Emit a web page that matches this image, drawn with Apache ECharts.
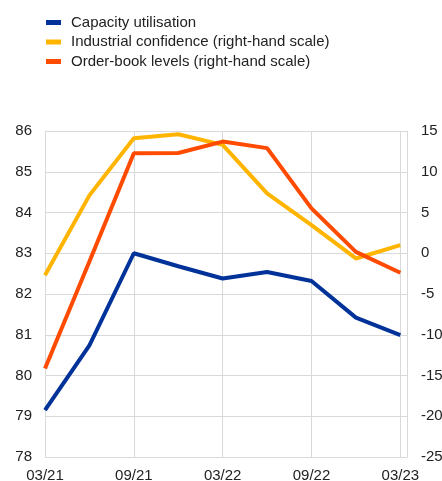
<!DOCTYPE html>
<html>
<head>
<meta charset="utf-8">
<script src="https://cdn.jsdelivr.net/npm/echarts@6/dist/echarts.min.js"></script>
<style>
  html, body { margin: 0; padding: 0; background: #fff; }
  #chart { width: 442px; height: 481px; }
</style>
</head>
<body>
<div id="chart"></div>
<script>
// quarterly points, 03/21 .. 03/23
const quarters = ['03/21', '06/21', '09/21', '12/21', '03/22', '06/22', '09/22', '12/22', '03/23']
const capacity = [79.15, 80.74, 83.0, 82.68, 82.38, 82.54, 82.32, 81.42, 80.99]
const confidence = [-2.7, 7.1, 14.1, 14.6, 13.3, 7.35, 3.45, -0.64, 1.0]
const orderBook = [-14.15, -1.0, 12.26, 12.3, 13.7, 12.9, 5.5, 0.17, -2.4]

const names = ['Capacity utilisation', 'Industrial confidence (right-hand scale)', 'Order-book levels (right-hand scale)']
const colors = ['#003299', '#ffb400', '#ff4b00']

function pts(arr) {
  return arr.map((v, i) => [i, v])
}

const font = 'Liberation Sans, Arial, sans-serif'
const chart = echarts.init(document.getElementById('chart'))

chart.setOption({
  animation: false,
  color: colors,
  textStyle: { fontFamily: font },
  legend: {
    orient: 'vertical',
    left: 46,
    top: 15,
    padding: 0,
    itemWidth: 15,
    itemHeight: 5,
    itemGap: 4.5,
    icon: 'rect',
    textStyle: { fontSize: 15, lineHeight: 15, color: '#222', fontFamily: font, padding: [0, 0, 0, 5] },
    data: names
  },
  grid: { left: 45, right: 35, top: 131, bottom: 24, outerBoundsMode: 'none' },
  xAxis: {
    type: 'value',
    min: 0,
    max: 8.15,
    interval: 2,
    axisLine: { show: true, lineStyle: { color: '#d9d9d9' } },
    axisTick: { show: false },
    splitLine: { show: true, lineStyle: { color: '#d9d9d9' } },
    axisLabel: {
      fontSize: 15,
      color: '#222',
      margin: 11,
      showMaxLabel: false,
      formatter: v => quarters[v] || ''
    }
  },
  yAxis: [
    {
      type: 'value',
      min: 78,
      max: 86,
      interval: 1,
      axisLine: { show: true, lineStyle: { color: '#d9d9d9' } },
      axisTick: { show: false },
      splitLine: { lineStyle: { color: '#d9d9d9' } },
      axisLabel: { fontSize: 15, color: '#222', margin: 13 }
    },
    {
      type: 'value',
      min: -25,
      max: 15,
      interval: 5,
      axisLine: { show: true, lineStyle: { color: '#d9d9d9' } },
      axisTick: { show: false },
      splitLine: { show: false },
      axisLabel: { fontSize: 15, color: '#222', margin: 14 }
    }
  ],
  series: [
    {
      name: names[0], type: 'line', yAxisIndex: 0, data: pts(capacity),
      symbol: 'none', lineStyle: { width: 4 }
    },
    {
      name: names[1], type: 'line', yAxisIndex: 1, data: pts(confidence),
      symbol: 'none', lineStyle: { width: 4 }
    },
    {
      name: names[2], type: 'line', yAxisIndex: 1, data: pts(orderBook),
      symbol: 'none', lineStyle: { width: 4 }
    }
  ]
})
</script>
</body>
</html>
